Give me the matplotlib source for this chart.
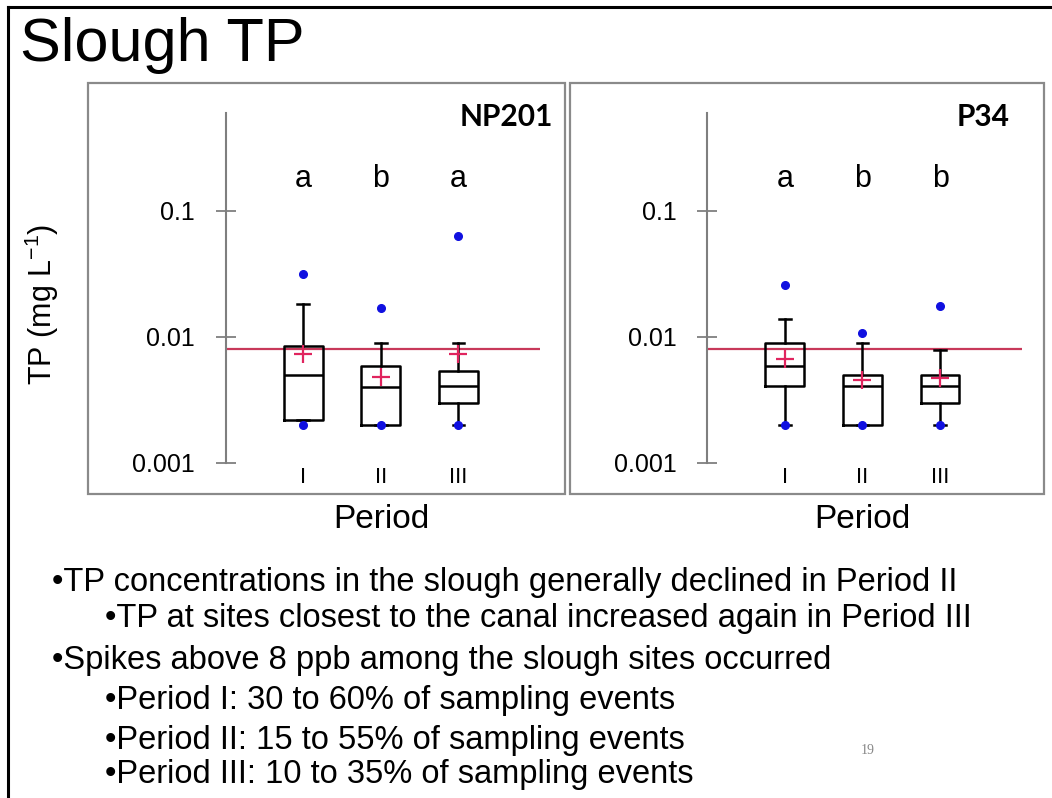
import matplotlib
matplotlib.use("Agg")
import matplotlib.pyplot as plt
from matplotlib.patches import Rectangle
from matplotlib.lines import Line2D
from matplotlib import font_manager

# ---------------- data ----------------
periods = ["I", "II", "III"]
sites = ["NP201", "P34"]

np201_whislo = [0.0022, 0.0020, 0.0020]
np201_q1 = [0.0022, 0.0020, 0.0030]
np201_med = [0.0050, 0.0040, 0.0041]
np201_q3 = [0.0085, 0.0059, 0.0054]
np201_whishi = [0.0181, 0.0089, 0.0089]
np201_mean = [0.0073, 0.0048, 0.0073]
np201_fliers = [[0.0313, 0.0020], [0.0170, 0.0020], [0.0633, 0.0020]]
np201_letters = ["a", "b", "a"]

p34_whislo = [0.0020, 0.0020, 0.0020]
p34_q1 = [0.0041, 0.0020, 0.0030]
p34_med = [0.0059, 0.0041, 0.0041]
p34_q3 = [0.0089, 0.0050, 0.0050]
p34_whishi = [0.0138, 0.0089, 0.0079]
p34_mean = [0.0067, 0.0045, 0.0047]
p34_fliers = [[0.0257, 0.0020], [0.0108, 0.0020], [0.0176, 0.0020]]
p34_letters = ["a", "b", "b"]

threshold = 0.008
ytick_vals = [0.001, 0.01, 0.1]
ytick_labels = ["0.001", "0.01", "0.1"]

title = "Slough TP"
ylabel = "TP (mg L$^{-1}$)"
xlabel = "Period"
bullets = [
    (0, "\u2022TP concentrations in the slough generally declined in Period II"),
    (1, "\u2022TP at sites closest to the canal increased again in Period III"),
    (0, "\u2022Spikes above 8 ppb among the slough sites occurred"),
    (1, "\u2022Period I: 30 to 60% of sampling events"),
    (1, "\u2022Period II: 15 to 55% of sampling events"),
    (1, "\u2022Period III: 10 to 35% of sampling events"),
]

# ---------------- fonts ----------------
avail = {f.name for f in font_manager.fontManager.ttflist}
sans = "Liberation Sans" if "Liberation Sans" in avail else "DejaVu Sans"
boldf = "Lato" if "Lato" in avail else sans
plt.rcParams["font.family"] = [sans, "DejaVu Sans"]
plt.rcParams["mathtext.fontset"] = "custom"
plt.rcParams["mathtext.rm"] = sans
plt.rcParams["mathtext.default"] = "regular"

W, H = 1052, 798
fig = plt.figure(figsize=(W / 100, H / 100), dpi=100)
fig.patch.set_facecolor("white")


def fx(px):
    return px / W


def fy(py):
    return 1 - py / H


# outer slide frame (top and left edges)
fig.add_artist(Line2D([fx(8), fx(1052)], [fy(7), fy(7)], color="black", lw=2.2))
fig.add_artist(Line2D([fx(8), fx(8)], [fy(7), fy(798)], color="black", lw=2.2))

# panel borders
for (x0, x1) in [(88, 565), (570, 1044)]:
    fig.add_artist(Rectangle((fx(x0), fy(494)), fx(x1 - x0), (494 - 83) / H,
                             fill=False, edgecolor="#8a8a8a", lw=1.6))

fig.text(fx(20), fy(46), title, fontsize=44, va="center", ha="left", family=sans)

panels = [
    (sites[0], 225.7, np201_whislo, np201_q1, np201_med, np201_q3, np201_whishi,
     np201_mean, np201_fliers, np201_letters),
    (sites[1], 707.3, p34_whislo, p34_q1, p34_med, p34_q3, p34_whishi,
     p34_mean, p34_fliers, p34_letters),
]

ax_top, ax_bot = 113, 462.7
for (name, left_px, wlo, q1, med, q3, whi, mean, fl, letters) in panels:
    width_px = 4.05 * 77.6
    ax = fig.add_axes([fx(left_px), fy(ax_bot), fx(width_px), (ax_bot - ax_top) / H])
    ax.set_facecolor("none")
    ax.set_yscale("log")
    ax.set_ylim(0.001, 0.6)
    ax.set_xlim(0, 4.05)
    stats = []
    for i in range(len(periods)):
        stats.append(dict(whislo=wlo[i], q1=q1[i], med=med[i], q3=q3[i],
                          whishi=whi[i], mean=mean[i], fliers=fl[i], label=periods[i]))
    ax.axhline(threshold, color="#c8385a", lw=1.6, zorder=1)
    ax.bxp(stats, positions=[1, 2, 3], widths=0.5, showmeans=True, showfliers=True,
           patch_artist=False,
           boxprops=dict(color="black", lw=1.8),
           medianprops=dict(color="black", lw=1.8),
           whiskerprops=dict(color="black", lw=1.8),
           capprops=dict(color="black", lw=1.8),
           capwidths=0.15,
           meanprops=dict(marker="+", markeredgecolor="#e0245e", markersize=13,
                          markeredgewidth=1.6),
           flierprops=dict(marker="o", markerfacecolor="#1010e0",
                           markeredgecolor="#1010e0", markersize=5.5))
    for i, lt in enumerate(letters):
        ax.text(i + 1, 0.18, lt, ha="center", va="center", fontsize=22, family=sans)
    for s in ["top", "right", "bottom"]:
        ax.spines[s].set_visible(False)
    ax.spines["left"].set_color("#7f7f7f")
    ax.spines["left"].set_linewidth(1.5)
    ax.set_yticks(ytick_vals)
    ax.set_yticklabels(ytick_labels)
    ax.yaxis.set_minor_locator(matplotlib.ticker.NullLocator())
    ax.tick_params(axis="y", direction="inout", length=14, width=1.3, color="#7f7f7f",
                   labelsize=18, pad=15)
    ax.set_xticks([1, 2, 3])
    ax.set_xticklabels(periods)
    ax.tick_params(axis="x", length=0, labelsize=16, pad=3)
    for lab in ax.get_xticklabels() + ax.get_yticklabels():
        lab.set_family(sans)

    fig.text(fx(left_px + 77.6 * 2), fy(520), xlabel, fontsize=24, ha="center",
             va="center", family=sans)

fig.text(fx(553), fy(117), sites[0], fontsize=21.5, fontweight="bold", ha="right",
         va="center", family=boldf)
fig.text(fx(1010), fy(117), sites[1], fontsize=21.5, fontweight="bold", ha="right",
         va="center", family=boldf)

fig.text(fx(42), fy(304), ylabel, fontsize=22, rotation=90, ha="center", va="center",
         family=sans)

ys = [583, 618, 660, 700, 740, 775]
for (lvl, txt), y in zip(bullets, ys):
    fig.text(fx(52 if lvl == 0 else 105), fy(y), txt, fontsize=23.5, ha="left",
             va="center", family=sans)

fig.text(fx(868), fy(750), "19", fontsize=10, color="#888888", ha="center",
         va="center", family="Liberation Serif")

fig.savefig("out.png", dpi=100, facecolor="white")
